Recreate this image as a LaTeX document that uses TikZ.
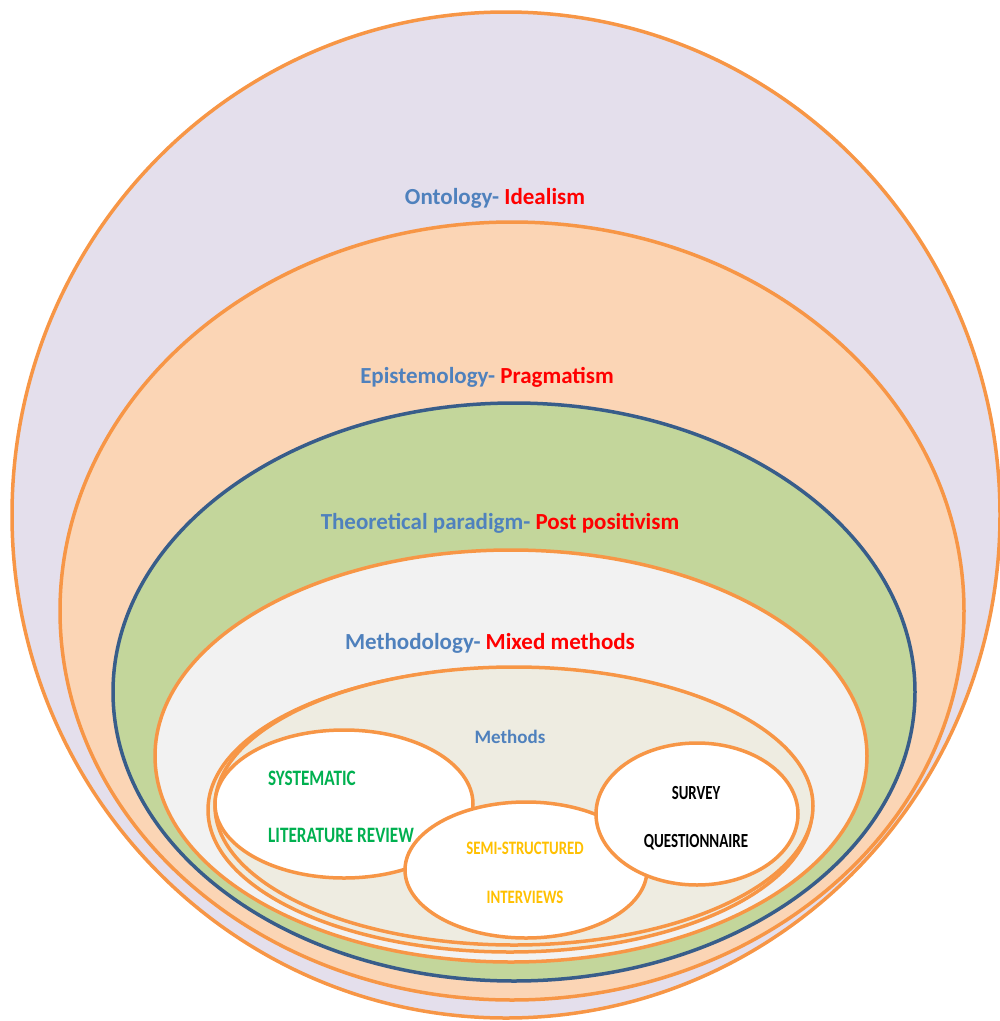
\documentclass[tikz,border=0pt]{standalone}
\usepackage{fontspec}
\setmainfont{Carlito}

% palette
\definecolor{lavender}{HTML}{E4DFEC}
\definecolor{peach}{HTML}{FBD5B5}
\definecolor{olivefill}{HTML}{C3D69B}
\definecolor{palegray}{HTML}{F2F2F2}
\definecolor{beige}{HTML}{EEECE1}
\definecolor{ringorange}{HTML}{F79646}
\definecolor{ringblue}{HTML}{385D8A}
\definecolor{labelblue}{HTML}{4F81BD}
\definecolor{labelred}{HTML}{FF0000}
\definecolor{labelgreen}{HTML}{00B050}
\definecolor{labelgold}{HTML}{FFC000}

\tikzset{
  ring/.style={draw=ringorange, line width=3.5pt},
  bluering/.style={draw=ringblue, line width=3.5pt},
  mainlabel/.style={inner sep=0pt, font=\fontsize{23}{27}\selectfont\bfseries},
  methodslabel/.style={inner sep=0pt, font=\fontsize{19}{23}\selectfont\bfseries, text=labelblue},
  biglabel/.style={inner sep=0pt, font=\fontsize{22}{26}\selectfont\bfseries},
  smalllabel/.style={inner sep=0pt, font=\fontsize{19}{23}\selectfont\bfseries},
  blacklabel/.style={inner sep=0pt, font=\fontsize{20}{24}\selectfont\bfseries, text=black},
}

\begin{document}
\begin{tikzpicture}[x=1pt, y=-1pt]
\useasboundingbox (0,0) rectangle (1000,1021);

% nested layers, outermost first
\path[ring, fill=lavender]   (506,515) ellipse [x radius=494, y radius=503];
\path[ring, fill=peach]      (512,611) ellipse [x radius=452, y radius=389];
\path[bluering, fill=olivefill] (514,692) ellipse [x radius=401, y radius=289];
\path[ring, fill=palegray]   (511,756) ellipse [x radius=356, y radius=206];
\path[ring, fill=beige]      (510,810) ellipse [x radius=302, y radius=142];
\path[ring, fill=beige]      (514,806) ellipse [x radius=299, y radius=139];

% methods
\path[ring, fill=white] (344,804) ellipse [x radius=129, y radius=74];
\path[ring, fill=white] (526,870) ellipse [x radius=121, y radius=68];
\path[ring, fill=white] (697,814) ellipse [x radius=101, y radius=71];

% layer titles
\node[mainlabel] (ontology) at (495,198)
  {\textcolor{labelblue}{Ontology-} \textcolor{labelred}{Idealism}};
\node[mainlabel] (epistemology) at (487,377)
  {\textcolor{labelblue}{Epistemology-} \textcolor{labelred}{Pragmatism}};
\node[mainlabel] (paradigm) at (500,523)
  {\textcolor{labelblue}{Theoretical paradigm-} \textcolor{labelred}{Post positivism}};
\node[mainlabel] (methodology) at (490,643)
  {\textcolor{labelblue}{Methodology-} \textcolor{labelred}{Mixed methods}};
\node[methodslabel] (methods) at (510,737) {Methods};

% method labels
\node[biglabel, text=labelgreen, anchor=west] (slr1) at (268,778)
  {\scalebox{0.78}[1]{SYSTEMATIC}};
\node[biglabel, text=labelgreen, anchor=west] (slr2) at (268,835)
  {\scalebox{0.78}[1]{LITERATURE REVIEW}};
\node[smalllabel, text=labelgold] (ssi1) at (525,848)
  {\scalebox{0.78}[1]{SEMI-STRUCTURED}};
\node[smalllabel, text=labelgold] (ssi2) at (525,897)
  {\scalebox{0.78}[1]{INTERVIEWS}};
\node[blacklabel] (sq1) at (696,793) {\scalebox{0.74}[1]{SURVEY}};
\node[blacklabel] (sq2) at (696,842) {\scalebox{0.75}[1]{QUESTIONNAIRE}};
\end{tikzpicture}
\end{document}
